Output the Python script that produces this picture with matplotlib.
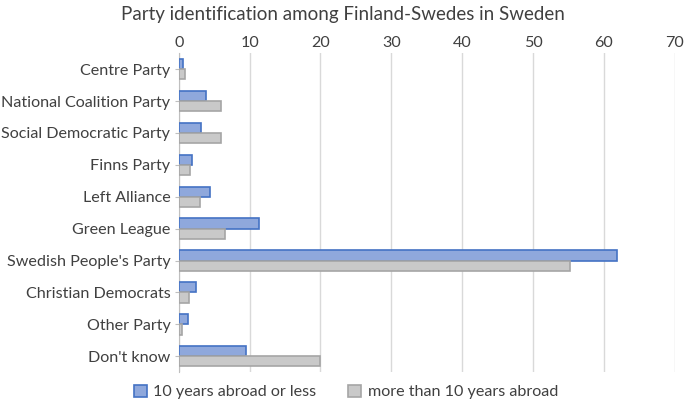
import numpy as np
import matplotlib.pyplot as plt

plt.rcParams['font.family'] = ['Lato', 'DejaVu Sans']

parties = ["Centre Party", "National Coalition Party", "Social Democratic Party",
           "Finns Party", "Left Alliance", "Green League", "Swedish People's Party",
           "Christian Democrats", "Other Party", "Don't know"]
recent = [0.65, 3.8, 3.2, 1.9, 4.4, 11.35, 61.8, 2.5, 1.3, 9.5]
longer = [0.85, 5.9, 5.9, 1.55, 3.0, 6.5, 55.2, 1.5, 0.45, 20.0]

fig = plt.figure(figsize=(6.85, 4.09), dpi=100)
ax = fig.add_axes([0.261, 0.09, 0.724, 0.78])

y = np.arange(len(parties))
h = 0.32
ax.barh(y - h/2, recent, height=h, color='#8FA8DC', edgecolor='#4472C4', linewidth=1.2,
        label='10 years abroad or less', zorder=3)
ax.barh(y + h/2, longer, height=h, color='#C9C9C9', edgecolor='#A5A5A5', linewidth=1.2,
        label='more than 10 years abroad', zorder=3)

ax.set_yticks(y)
ax.set_yticklabels(parties, fontsize=11.6, color='#404040')
ax.set_ylim(len(parties) - 0.5, -0.5)
ax.set_xlim(0, 70)
ax.set_xticks(range(0, 71, 10))
ax.xaxis.tick_top()
ax.tick_params(axis='x', length=0, labelsize=11.6, labelcolor='#404040', pad=2)
ax.tick_params(axis='y', length=3, color='#BFBFBF', pad=3)
ax.grid(axis='x', color='#D9D9D9', linewidth=1, zorder=0)
for s in ['top', 'right', 'bottom']:
    ax.spines[s].set_visible(False)
ax.spines['left'].set_color('#BFBFBF')

fig.suptitle('Party identification among Finland-Swedes in Sweden', fontsize=13.5,
             color='#404040', y=0.985)
fig.legend(loc='lower center', ncol=2, frameon=False, fontsize=11.6,
           bbox_to_anchor=(0.505, -0.012), handlelength=0.8, handleheight=0.8,
           columnspacing=2.0, handletextpad=0.4, labelcolor='#404040')

fig.savefig('out.png', dpi=100)
